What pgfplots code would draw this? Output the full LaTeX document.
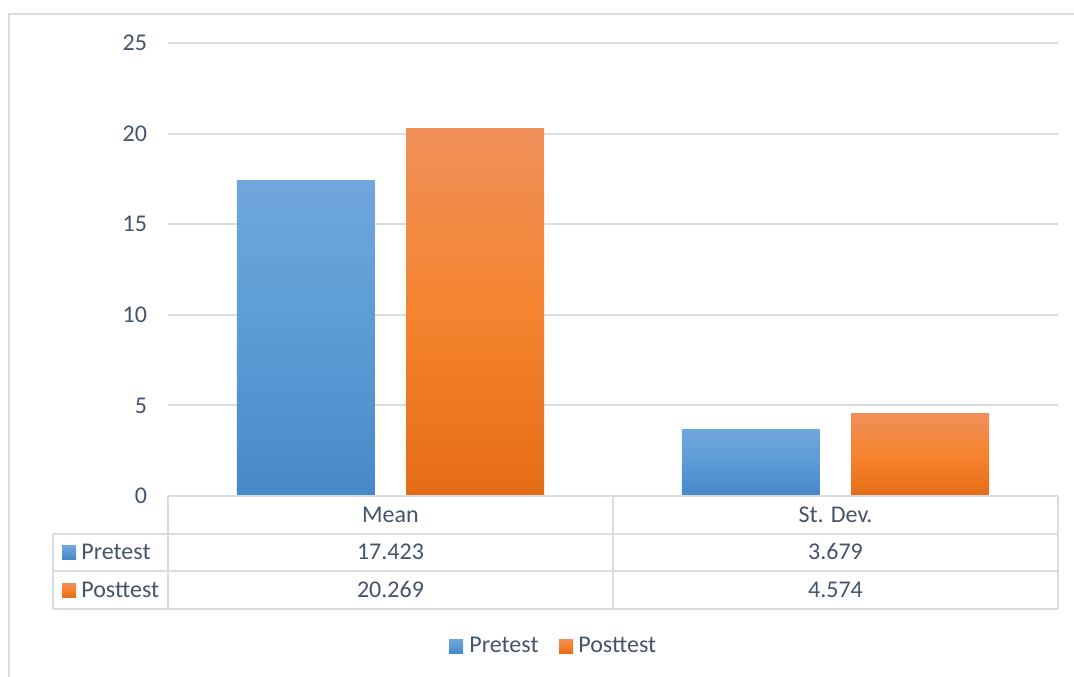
\documentclass[border=0pt]{standalone}
\usepackage{fontspec}
\setmainfont{Carlito}
\usepackage{pgfplots}
\pgfplotsset{compat=1.18}

\definecolor{txt}{HTML}{44546A}
\definecolor{grd}{HTML}{D9DDE3}
\definecolor{bluetop}{HTML}{70A7DC}
\definecolor{bluemid}{HTML}{5B9BD5}
\definecolor{bluebot}{HTML}{4788C9}
\definecolor{orgtop}{HTML}{F09059}
\definecolor{orgmid}{HTML}{F5832F}
\definecolor{orgbot}{HTML}{E66C17}

\pgfplotsset{
  pre/.style={ybar, bar width=0.31, bar shift=-0.19, draw=none,
    top color=bluetop, bottom color=bluebot, middle color=bluemid},
  post/.style={ybar, bar width=0.31, bar shift=0.19, draw=none,
    top color=orgtop, bottom color=orgbot, middle color=orgmid},
}

\begin{document}
\begin{tikzpicture}[x=0.5pt,y=0.5pt,font=\fontsize{12}{14}\selectfont]
\useasboundingbox (0,0) rectangle (1074,676);
% chart area frame
\draw[grd, line width=1pt] (9,-10) -- (9,662) -- (1090,662);

\begin{axis}[
    at={(84pt,90pt)}, anchor=south west,
    scale only axis, width=445pt, height=226.5pt,
    xmin=-0.5, xmax=1.5,
    ymin=0, ymax=25,
    ytick={0,5,...,25},
    xtick=\empty,
    axis line style={draw=none},
    major tick length=0pt,
    ymajorgrids=true,
    grid style={grd, line width=1pt},
    /pgf/number format/assume math mode=true,
    yticklabel style={text=txt, font=\fontsize{12}{14}\selectfont, xshift=-7pt},
    clip=false,
]
% one plot per bar so that each bar gets its own gradient
\addplot[pre]  coordinates {(0,17.423)};
\addplot[pre]  coordinates {(1,3.679)};
\addplot[post] coordinates {(0,20.269)};
\addplot[post] coordinates {(1,4.574)};
\end{axis}

% data table
\begin{scope}[grd, line width=1pt]
  \draw (168,180) -- (1058,180);
  \draw (53,142.5) -- (1058,142.5);
  \draw (53,105) -- (1058,105);
  \draw (53,67) -- (1058,67);
  \draw (53,142.5) -- (53,67);
  \draw (168,180) -- (168,67);
  \draw (613,180) -- (613,67);
  \draw (1058,180) -- (1058,67);
\end{scope}
\begin{scope}[every node/.style={text=txt, inner sep=0pt}]
  \node[anchor=base] at (390.5,154) {Mean};
  \node[anchor=base] at (835.5,154) {St. Dev.};
  \node[anchor=base] at (390.5,117) {17.423};
  \node[anchor=base] at (835.5,117) {3.679};
  \node[anchor=base] at (390.5,79) {20.269};
  \node[anchor=base] at (835.5,79) {4.574};
  \node[anchor=base west] at (81,117) {Pretest};
  \node[anchor=base west] at (81,79) {Posttest};
  % bottom legend
  \node[anchor=base west] at (469,24) {Pretest};
  \node[anchor=base west] at (578,24) {Posttest};
\end{scope}
% legend keys
\shade[top color=bluetop, bottom color=bluebot, middle color=bluemid] (62,117) rectangle (76,131);
\shade[top color=orgtop, bottom color=orgbot, middle color=orgmid] (62,79) rectangle (76,93);
\shade[top color=bluetop, bottom color=bluebot, middle color=bluemid] (449,23) rectangle (463,37);
\shade[top color=orgtop, bottom color=orgbot, middle color=orgmid] (559,23) rectangle (573,37);
\end{tikzpicture}
\end{document}
